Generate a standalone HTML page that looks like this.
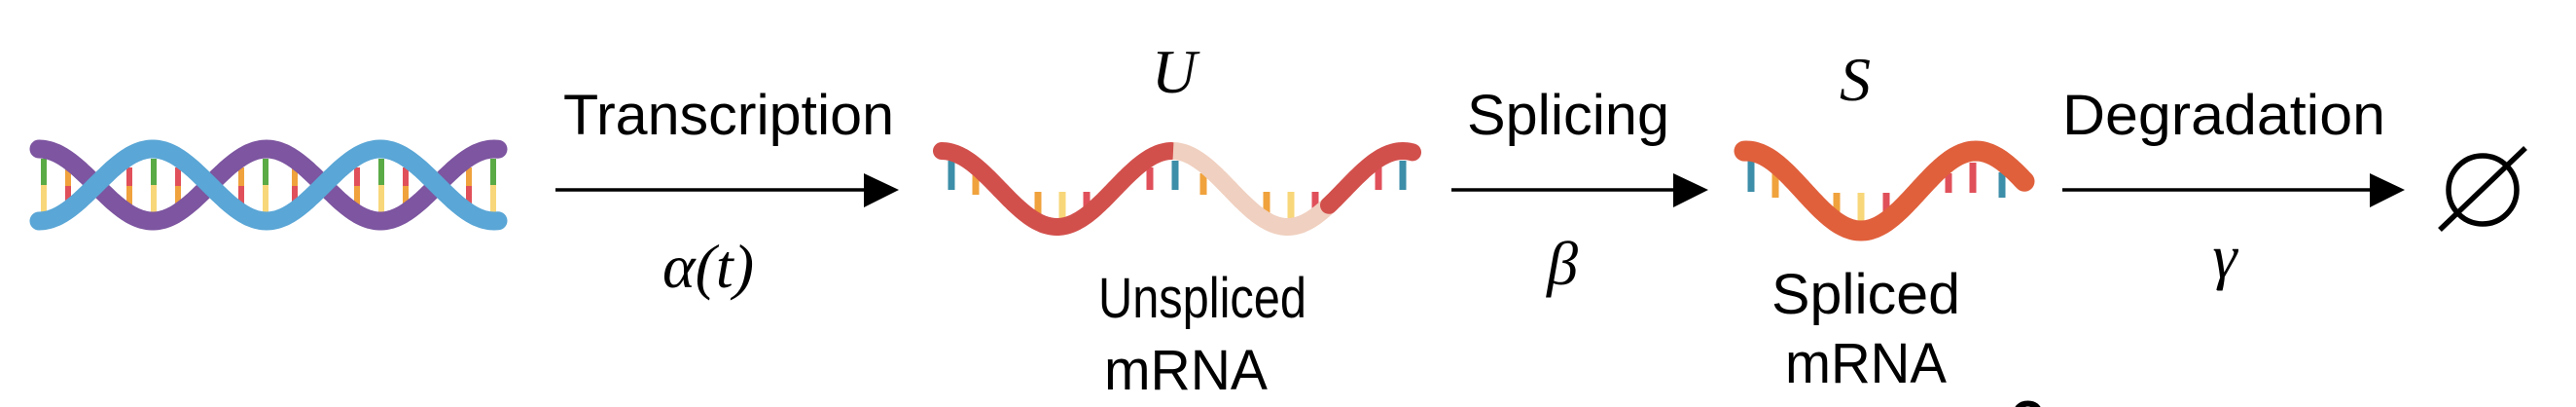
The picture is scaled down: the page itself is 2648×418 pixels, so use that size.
<!DOCTYPE html>
<html><head><meta charset="utf-8"><style>
html,body{margin:0;padding:0;background:#fff;overflow:hidden;width:2648px;height:418px;}
svg{display:block;}
.lab{font-family:"Liberation Sans",sans-serif;font-size:58px;fill:#000;}
.math{font-family:"Liberation Serif",serif;font-style:italic;font-size:64px;fill:#000;}
</style></head><body>
<svg width="2648" height="418" viewBox="0 0 2648 418" overflow="hidden" xmlns="http://www.w3.org/2000/svg">
<g id="dna"></g>
<g id="urna"></g>
<g id="srna"></g>

<g>
<line x1="571" y1="195" x2="892" y2="195" stroke="#000" stroke-width="3.5"/>
<polygon points="888,178 924,195 888,213" fill="#000"/>
</g>
<text class="lab" x="749" y="138" text-anchor="middle" textLength="340" lengthAdjust="spacingAndGlyphs">Transcription</text>
<text class="math" x="728" y="295" text-anchor="middle" font-weight="normal">α(t)</text>

<text class="math" x="1207" y="95" text-anchor="middle">U</text>
<text class="lab" x="1236" y="326" text-anchor="middle" textLength="214" lengthAdjust="spacingAndGlyphs">Unspliced</text>
<text class="lab" x="1219" y="400" text-anchor="middle" textLength="168" lengthAdjust="spacingAndGlyphs">mRNA</text>

<g>
<line x1="1492" y1="195" x2="1725" y2="195" stroke="#000" stroke-width="3.5"/>
<polygon points="1720,178 1756,195 1720,213" fill="#000"/>
</g>
<text class="lab" x="1612" y="138" text-anchor="middle" textLength="208" lengthAdjust="spacingAndGlyphs">Splicing</text>
<text class="math" x="1606" y="292" text-anchor="middle">β</text>

<text class="math" x="1907" y="103" text-anchor="middle">S</text>
<text class="lab" x="1918" y="322" text-anchor="middle" textLength="194" lengthAdjust="spacingAndGlyphs">Spliced</text>
<text class="lab" x="1918" y="393" text-anchor="middle" textLength="166" lengthAdjust="spacingAndGlyphs">mRNA</text>

<g>
<line x1="2120" y1="195" x2="2440" y2="195" stroke="#000" stroke-width="3.5"/>
<polygon points="2436,178 2472,195 2436,213" fill="#000"/>
</g>
<text class="lab" x="2286" y="138" text-anchor="middle" textLength="332" lengthAdjust="spacingAndGlyphs">Degradation</text>
<text class="math" x="2287" y="285" text-anchor="middle">γ</text>

<g>
<ellipse cx="2552" cy="195" rx="35" ry="35" fill="none" stroke="#000" stroke-width="5.5"/>
<line x1="2508" y1="236" x2="2596" y2="152" stroke="#000" stroke-width="5.5"/>
</g>
<text x="2066" y="446" font-family="Liberation Sans,sans-serif" font-weight="bold" font-size="64">c</text>
</svg>
<script>
const NS="http://www.w3.org/2000/svg";
function mk(parent,tag,attrs){const e=document.createElementNS(NS,tag);for(const k in attrs)e.setAttribute(k,attrs[k]);parent.appendChild(e);return e;}
function wave(x0,x1,cy,amp,period,phase){let d="";for(let x=x0;x<=x1;x+=2){const y=cy-amp*Math.cos(2*Math.PI*(x-phase)/period);d+=(d?"L":"M")+x.toFixed(1)+","+y.toFixed(1);}return d;}
// DNA
const dna=document.getElementById('dna');
const rx=[45,70,133,158,183,248,273,303,367,392,417,482,507];
rx.forEach((x,i)=>{
  const peak=[0,3,6,9,12].includes(i);
  let r;
  if(peak){r=mk(dna,'line',{x1:x,y1:163,x2:x,y2:190,stroke:'#5aaa46','stroke-width':6});
    r=mk(dna,'line',{x1:x,y1:190,x2:x,y2:218,stroke:'#f8d77a','stroke-width':6});}
  else{const a=i%2?'#f0a23c':'#e0505a',b=i%2?'#e0505a':'#f0a23c';
    r=mk(dna,'line',{x1:x,y1:172,x2:x,y2:191,stroke:a,'stroke-width':6});
    r=mk(dna,'line',{x1:x,y1:191,x2:x,y2:210,stroke:b,'stroke-width':6});}
});
let s=mk(dna,'path',{d:wave(40,513,190,37,234,40),fill:'none',stroke:'#7d55a0','stroke-width':19,'stroke-linecap':'round'});

s=mk(dna,'path',{d:wave(40,513,190,37,234,157),fill:'none',stroke:'#5aa6d6','stroke-width':19,'stroke-linecap':'round'});

// Unspliced
const u=document.getElementById('urna');
const ur=[[978,'#3d8ea8',165,195],[1003,'#f0a23c',178,200],[1067,'#f0a23c',197,225],[1092,'#f8d77a',197,228],[1117,'#e0505a',197,225],[1182,'#e0505a',172,195],[1208,'#3d8ea8',165,195],[1237,'#f0a23c',178,200],[1302,'#f0a23c',197,225],[1327,'#f8d77a',197,228],[1352,'#e0505a',197,225],[1417,'#e0505a',172,195],[1442,'#3d8ea8',165,195]];
ur.forEach(a=>{const r=mk(u,'line',{x1:a[0],y1:a[2],x2:a[0],y2:a[3],stroke:a[1],'stroke-width':7});});
s=mk(u,'path',{d:wave(968,1205,194,39,237,968),fill:'none',stroke:'#d2504c','stroke-width':18,'stroke-linecap':'round'});
s=mk(u,'path',{d:wave(1206,1366,194,39,237,968),fill:'none',stroke:'#f0d0c0','stroke-width':18});
s=mk(u,'path',{d:wave(1366,1453,194,39,237,968),fill:'none',stroke:'#d2504c','stroke-width':18,'stroke-linecap':'round'});
// Spliced
const sp=document.getElementById('srna');
const sr=[[1800,'#3d8ea8',163,197],[1825,'#f0a23c',177,203],[1888,'#f0a23c',198,227],[1913,'#f8d77a',198,230],[1939,'#e0505a',198,227],[2003,'#e0505a',178,198],[2028,'#e0505a',167,198],[2058,'#3d8ea8',177,203]];
sr.forEach(a=>{const r=mk(sp,'line',{x1:a[0],y1:a[2],x2:a[0],y2:a[3],stroke:a[1],'stroke-width':7});});
s=mk(sp,'path',{d:wave(1793,2082,196,41,236,1795),fill:'none',stroke:'#e0603c','stroke-width':21,'stroke-linecap':'round'});
</script>
</body></html>
